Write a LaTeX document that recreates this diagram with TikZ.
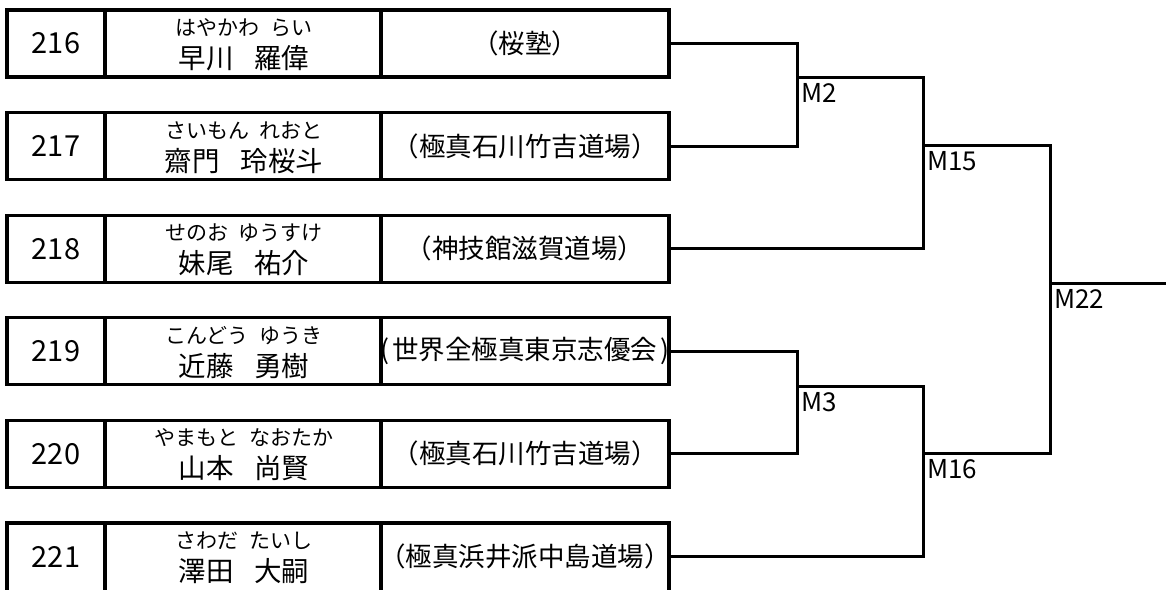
\documentclass[tikz,border=0pt]{standalone}
\usepackage{fontspec}
\setmainfont{Noto Sans CJK JP}
\begin{document}
\begin{tikzpicture}[x=1pt,y=-1pt,
  cell/.style={draw, line width=3.2pt, inner sep=0pt, outer sep=0pt},
  numtxt/.style={inner sep=0pt, font=\fontsize{29}{34}\selectfont},
  clubtxt/.style={inner sep=0pt, font=\fontsize{26.5}{30}\selectfont},
  kana/.style={inner sep=0pt, font=\fontsize{21}{24}\selectfont},
  nm/.style={inner sep=0pt, font=\fontsize{27.5}{32}\selectfont},
  conn/.style={line width=3pt},
  mlab/.style={anchor=north west, inner sep=0pt, font=\fontsize{26}{30}\selectfont}
]
\useasboundingbox (0,0) rectangle (1166,589);
\clip (0,0) rectangle (1166,589);

\foreach \i/\num/\kn/\name/\club/\h in {
  1/216/はやかわ\hspace{0.5em}らい/早川\hspace{0.75em}羅偉/（桜塾）/67,
  2/217/さいもん\hspace{0.5em}れおと/齋門\hspace{0.75em}玲桜斗/（極真石川竹吉道場）/67,
  3/218/せのお\hspace{0.5em}ゆうすけ/妹尾\hspace{0.75em}祐介/（神技館滋賀道場）/67,
  4/219/こんどう\hspace{0.5em}ゆうき/近藤\hspace{0.75em}勇樹/(\hspace{0.12em}世界全極真東京志優会\hspace{0.12em})/67,
  5/220/やまもと\hspace{0.5em}なおたか/山本\hspace{0.75em}尚賢/（極真石川竹吉道場）/67,
  6/221/さわだ\hspace{0.5em}たいし/澤田\hspace{0.75em}大嗣/（極真浜井派中島道場）/74}{
  \pgfmathsetmacro{\top}{10+(\i-1)*102.6}
  \pgfmathsetmacro{\mid}{\top+\h/2}
  \pgfmathsetmacro{\tmid}{\top+33.5}
  \node[cell, minimum width=98pt, minimum height=\h pt] (numcell\i) at (56,\mid) {};
  \node[cell, minimum width=276pt, minimum height=\h pt] (cell\i) at (243,\mid) {};
  \node[cell, minimum width=288pt, minimum height=\h pt] (clubcell\i) at (525,\mid) {};
  \coordinate (club\i) at (669,\tmid);
  \node[numtxt] (num\i) at (56,\tmid) {\num};
  \node[clubtxt] (clubname\i) at (525,\tmid) {\club};
  \node[kana] (kana\i) at (244,\top+17.5) {\kn};
  \node[nm] (name\i) at (244,\top+48) {\name};
}

\coordinate (q2) at (797,77);
\coordinate (q15) at (923,145);
\coordinate (q3) at (797,386);
\coordinate (q16) at (923,453);
\coordinate (q22) at (1050,283);
\coordinate (fin) at (1170,283);

\draw[conn] (club1) -| (q2) |- (club2);
\draw[conn] (q2) -| (q15) |- (club3);
\draw[conn] (club4) -| (q3) |- (club5);
\draw[conn] (q3) -| (q16) |- (club6);
\draw[conn] (q15) -| (q22) |- (q16);
\draw[conn] (q22) -- (fin);

\node[mlab] (m2) at ([xshift=4pt,yshift=-6pt]q2) {M2};
\node[mlab] (m15) at ([xshift=4pt,yshift=-6pt]q15) {M15};
\node[mlab] (m3) at ([xshift=4pt,yshift=-6pt]q3) {M3};
\node[mlab] (m16) at ([xshift=4pt,yshift=-6pt]q16) {M16};
\node[mlab] (m22) at ([xshift=4pt,yshift=-6pt]q22) {M22};
\end{tikzpicture}
\end{document}
